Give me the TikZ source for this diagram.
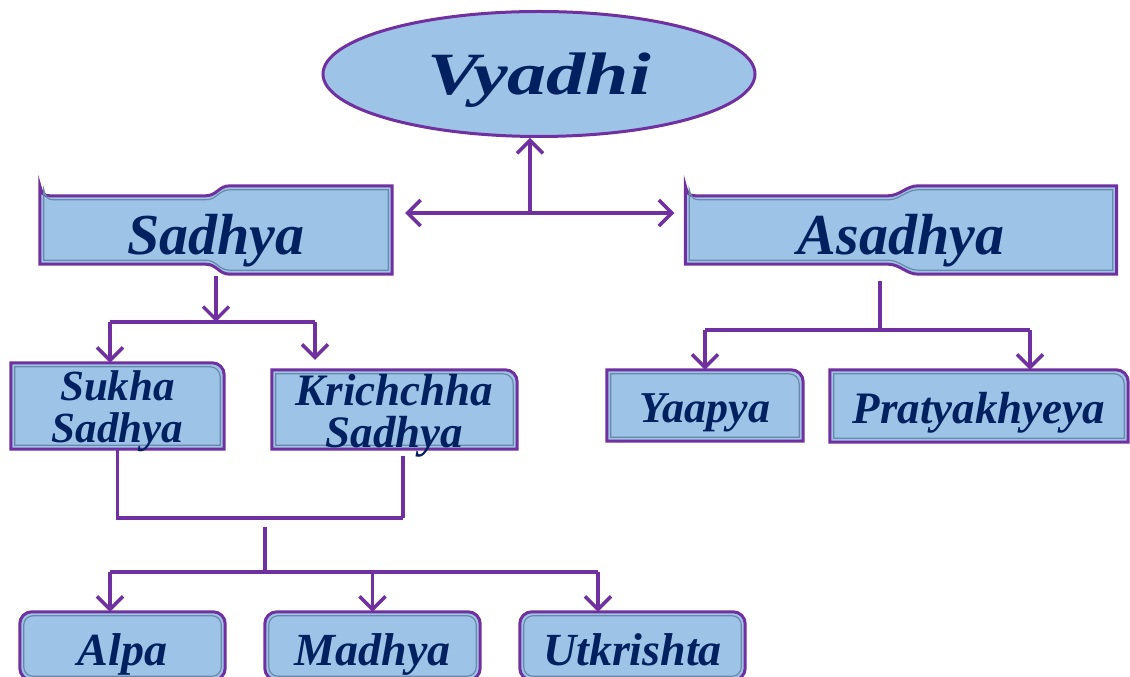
\documentclass[tikz,border=0pt]{standalone}
\usepackage{fontspec}
\setmainfont{Liberation Serif}
\newfontfamily\widefont[FakeStretch=1.3]{Liberation Serif}
\usetikzlibrary{arrows.meta,shapes.geometric,backgrounds,calc}
\definecolor{vpurple}{HTML}{7030A0}
\definecolor{vblue}{HTML}{9DC3E6}
\definecolor{vnavy}{HTML}{002060}
\definecolor{vbevel}{HTML}{6A8AAA}
\tikzset{
  txt/.style={text=vnavy, font=\bfseries\itshape\fontsize{#1}{42}\selectfont,
    inner sep=0pt, align=center},
  frame/.style={draw=vpurple, line width=3pt, fill=vblue},
  bevel/.style={draw=vbevel, line width=1.2pt},
  link/.style={draw=vpurple, line width=3.5pt},
  arr/.style={link, -{Straight Barb[length=13pt,width=26pt]}},
}
\newcommand\tabbox[1]{%
  \path[frame] (#1.south west) -- (#1.north west) -- ([xshift=-12pt]#1.north east)
    arc[start angle=90,end angle=0,radius=12pt] -- (#1.south east) -- cycle;
  \path[bevel] ([shift={(4pt,4pt)}]#1.south west) -- ([shift={(4pt,-4pt)}]#1.north west)
    -- ([shift={(-14pt,-4pt)}]#1.north east)
    arc[start angle=90,end angle=0,radius=10pt] -- ([shift={(-4pt,4pt)}]#1.south east) -- cycle;}
\newcommand\roundbox[1]{%
  \path[frame, rounded corners=12pt] (#1.south west) rectangle (#1.north east);
  \path[bevel, rounded corners=9pt] ([shift={(4pt,4pt)}]#1.south west)
    rectangle ([shift={(-4pt,-4pt)}]#1.north east);}
\newcommand\ribbon[3]{%
  \path[#3] ([shift={(#2,10pt+#2)}]#1.south west)
    -- ([shift={(#2,-#2)}]#1.north west)
    .. controls +(2pt,-8pt) and +(-6pt,0) .. ([shift={(#2+10pt,-10pt-#2)}]#1.north west)
    -- ($(#1.north west)!.47!(#1.north east) + (0,-10pt-#2)$)
    .. controls +(12pt,0) and +(-12pt,0) .. ($(#1.north west)!.54!(#1.north east) + (0,-#2)$)
    -- ([shift={(-#2,-#2)}]#1.north east)
    -- ([shift={(-#2,#2)}]#1.south east)
    -- ($(#1.south west)!.54!(#1.south east) + (0,#2)$)
    .. controls +(-12pt,0) and +(12pt,0) .. ($(#1.south west)!.47!(#1.south east) + (0,10pt+#2)$)
    -- cycle;}

\begin{document}
\begin{tikzpicture}[x=1pt,y=1pt]
  \useasboundingbox (0,0) rectangle (1130,677);

  \node[ellipse, frame, minimum width=432pt, minimum height=125pt, txt=60,
    font=\widefont\bfseries\itshape\fontsize{60}{60}\selectfont,
    text height=52pt, text depth=10pt] (vyadhi) at (539,603) {Vyadhi};
  \node[minimum width=352pt, minimum height=88pt, txt=58, text height=60pt, text depth=10pt]
    (sadhya) at (216,447) {Sadhya};
  \node[minimum width=431pt, minimum height=88pt, txt=58, text height=60pt, text depth=10pt]
    (asadhya) at (901,447) {Asadhya};
  \node[minimum width=213pt, minimum height=86pt,
    label={[txt=43, yshift=-5pt]center:Sukha\\Sadhya}] (sukha) at (117.5,271) {};
  \node[minimum width=245pt, minimum height=79pt,
    label={[txt=45, yshift=-6pt]center:Krichchha\\Sadhya}] (krich) at (394.5,267.5) {};
  \node[minimum width=196pt, minimum height=71pt, txt=44, text height=45pt, text depth=10pt]
    (yaapya) at (705,271.5) {Yaapya};
  \node[minimum width=298pt, minimum height=72pt, txt=45, text height=45pt, text depth=10pt]
    (pratya) at (979,271) {Pratyakhyeya};
  \node[minimum width=205pt, minimum height=68pt, txt=46, text height=50pt, text depth=10pt]
    (alpa) at (122.5,31) {Alpa};
  \node[minimum width=215pt, minimum height=68pt, txt=46, text height=50pt, text depth=10pt]
    (madhya) at (372.5,31) {Madhya};
  \node[minimum width=225pt, minimum height=68pt, txt=46, text height=50pt, text depth=10pt]
    (utk) at (632.5,31) {Utkrishta};

  \begin{scope}[on background layer]
    \draw[bevel] (vyadhi.center) ellipse [x radius=211pt, y radius=57pt];
    \ribbon{sadhya}{0pt}{frame}
    \ribbon{sadhya}{4pt}{bevel}
    \ribbon{asadhya}{0pt}{frame}
    \ribbon{asadhya}{4pt}{bevel}
    \tabbox{sukha}
    \tabbox{krich}
    \tabbox{yaapya}
    \tabbox{pratya}
    \roundbox{alpa}
    \roundbox{madhya}
    \roundbox{utk}
  \end{scope}

  \coordinate (hub) at (530,464);
  \draw[arr] (hub) -- (hub |- vyadhi.south);
  \draw[arr, shorten >=13pt] (hub) -- (sadhya.east |- hub);
  \draw[arr, shorten >=11pt] (hub) -- (asadhya.west |- hub);

  \coordinate (sfork) at (216,355);
  \coordinate (sl) at (110,355);
  \coordinate (sr) at (315,355);
  \draw[arr, shorten <=2pt] (sadhya.south) -- (sfork);
  \draw[link] (sl) -- (sr);
  \draw[arr] (sl) -- (sl |- sukha.north);
  \draw[arr, shorten >=10pt] (sr) -- (sr |- krich.north);

  \coordinate (kd) at (403,159);
  \draw[link] (sukha.south) |- (kd);
  \draw[link, shorten >=7pt] (kd) -- (kd |- krich.south);

  \coordinate (drop) at (265,150);
  \coordinate (bfork) at (265,105);
  \coordinate (bl) at (110,105);
  \coordinate (br) at (598,105);
  \draw[link] (drop) -- (bfork);
  \draw[link] (bl) -- (br);
  \draw[arr] (bl) -- (bl |- alpa.north);
  \draw[arr] (madhya.north |- bl) -- (madhya.north);
  \draw[arr] (br) -- (br |- utk.north);

  \coordinate (afork) at (880,347);
  \coordinate (al) at (705,347);
  \coordinate (ar) at (1030,347);
  \draw[link, shorten <=7pt] (afork |- asadhya.south) -- (afork);
  \draw[link] (al) -- (ar);
  \draw[arr] (al) -- (yaapya.north);
  \draw[arr] (ar) -- (ar |- pratya.north);
\end{tikzpicture}
\end{document}
